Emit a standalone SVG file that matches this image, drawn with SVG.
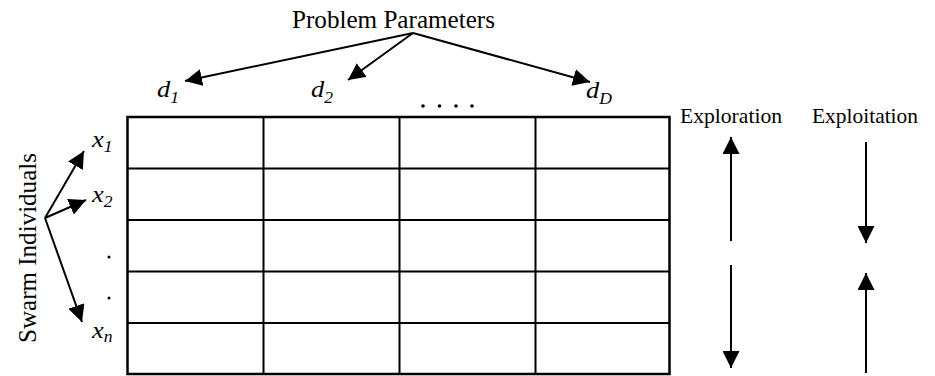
<svg xmlns="http://www.w3.org/2000/svg" width="935" height="376" viewBox="0 0 935 376">
<defs>
<style>
.lbl{font-family:"Liberation Serif","Times New Roman",serif;font-size:22px;fill:#000}
.math{font-family:"Liberation Serif","Times New Roman",serif;font-style:italic;font-size:24px;fill:#000}
.sub{font-size:16px}
.conn line{stroke:#000;stroke-width:2;fill:none;marker-end:url(#ah)}
.grid{stroke:#000;stroke-width:2;fill:#fff}
.dot{fill:#000}
</style>
<marker id="ah" viewBox="0 0 16 16" refX="16" refY="8" markerWidth="17" markerHeight="17" markerUnits="userSpaceOnUse" orient="auto">
<path d="M0,0 L16,8 L0,16 z" fill="#000"/>
</marker>
</defs>
<rect width="935" height="376" fill="#fff"/>

<g id="table">
<rect class="grid" x="127.5" y="117" width="542" height="257" style="stroke-width:2.5"/>
<path class="grid" fill="none" d="M263.5,117V374 M399.5,117V374 M535.5,117V374 M127.5,168.5H669.5 M127.5,220H669.5 M127.5,271.5H669.5 M127.5,323H669.5"/>
</g>

<g id="problem-parameters">
<text class="lbl" x="292" y="27.5" style="font-size:25px" textLength="203" lengthAdjust="spacingAndGlyphs">Problem Parameters</text>
</g>

<g id="d1"><text class="math" transform="translate(157,97) scale(1.1,1)">d<tspan class="sub" dy="6">1</tspan></text></g>
<g id="d2"><text class="math" transform="translate(311,97) scale(1.1,1)">d<tspan class="sub" dy="6">2</tspan></text></g>
<g id="dD"><text class="math" transform="translate(586,98) scale(1.1,1)">d<tspan class="sub" dy="6">D</tspan></text></g>
<g id="dots-top">
<circle class="dot" cx="423" cy="106" r="1.8"/>
<circle class="dot" cx="439.5" cy="106" r="1.8"/>
<circle class="dot" cx="456" cy="106" r="1.8"/>
<circle class="dot" cx="472" cy="106" r="1.8"/>
</g>

<g id="swarm-individuals">
<text class="lbl" transform="translate(36,343) rotate(-90)" style="font-size:25px" textLength="190" lengthAdjust="spacingAndGlyphs">Swarm Individuals</text>
</g>

<g id="x1"><text class="math" transform="translate(92,147) scale(1.1,1)">x<tspan class="sub" dy="5">1</tspan></text></g>
<g id="x2"><text class="math" transform="translate(92,202) scale(1.1,1)">x<tspan class="sub" dy="5">2</tspan></text></g>
<g id="xn"><text class="math" transform="translate(92,338) scale(1.1,1)">x<tspan class="sub" dy="4">n</tspan></text></g>
<g id="dots-left">
<circle class="dot" cx="109" cy="257" r="1.5"/>
<circle class="dot" cx="109" cy="298" r="1.5"/>
</g>

<g id="exploration"><text class="lbl" x="680" y="123" textLength="102" lengthAdjust="spacingAndGlyphs">Exploration</text></g>
<g id="exploitation"><text class="lbl" x="812" y="123" textLength="106" lengthAdjust="spacingAndGlyphs">Exploitation</text></g>

<g id="connectors" class="conn">
<line x1="413" y1="33" x2="185" y2="81"/>
<line x1="413" y1="33" x2="348" y2="80"/>
<line x1="413" y1="33" x2="590" y2="82"/>
<line x1="45" y1="218" x2="84" y2="151"/>
<line x1="45" y1="218" x2="86" y2="200"/>
<line x1="45" y1="218" x2="82" y2="322"/>
<line x1="731" y1="241" x2="731" y2="137"/>
<line x1="731" y1="265" x2="731" y2="368"/>
<line x1="866" y1="142" x2="866" y2="243"/>
<line x1="866" y1="373" x2="866" y2="273"/>
</g>
</svg>
